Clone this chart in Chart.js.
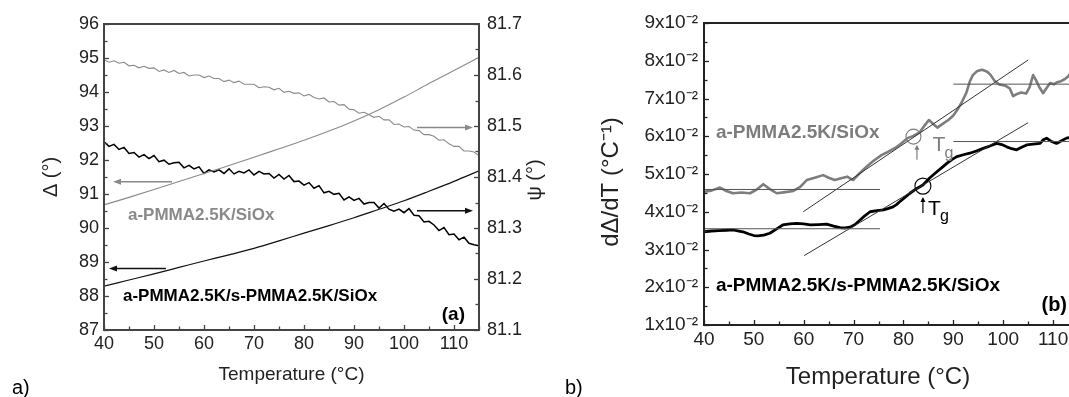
<!DOCTYPE html>
<html>
<head>
<meta charset="utf-8">
<script src="https://cdn.jsdelivr.net/npm/chart.js@4"></script>
<style>
  html, body { margin: 0; padding: 0; background: #fff; overflow: hidden; }
  body { width: 1069px; height: 397px; position: relative; }
  .panel { position: absolute; top: 0; height: 397px; }
  #panel-a { left: 0; width: 560px; }
  #panel-b { left: 520px; width: 600px; }
</style>
</head>
<body>
<div class="panel" id="panel-a"><canvas id="chart-a"></canvas></div>
<div class="panel" id="panel-b"><canvas id="chart-b"></canvas></div>
<script>
// ---- panel (a): ellipsometric angles vs temperature ----
const temps = [40, 45, 50, 55, 60, 65, 70, 75, 80, 85, 90, 95, 100, 105, 110, 115];
const deltaGray = [90.68, 90.90, 91.13, 91.37, 91.60, 91.84, 92.08, 92.33, 92.58, 92.85, 93.15, 93.48, 93.85, 94.25, 94.63, 95.02];
const deltaBlack = [88.29, 88.47, 88.65, 88.84, 89.03, 89.21, 89.40, 89.62, 89.85, 90.07, 90.30, 90.55, 90.80, 91.08, 91.37, 91.68];

const tempsFine = [40, 41, 42, 43, 44, 45, 46, 47, 48, 49, 50, 51, 52, 53, 54, 55, 56, 57, 58, 59,
  60, 61, 62, 63, 64, 65, 66, 67, 68, 69, 70, 71, 72, 73, 74, 75, 76, 77, 78, 79,
  80, 81, 82, 83, 84, 85, 86, 87, 88, 89, 90, 91, 92, 93, 94, 95, 96, 97, 98, 99,
  100, 101, 102, 103, 104, 105, 106, 107, 108, 109, 110, 111, 112, 113, 114, 115];
const psiGray = [81.630, 81.625, 81.628, 81.623, 81.625, 81.618, 81.619, 81.614, 81.617, 81.613,
  81.614, 81.607, 81.610, 81.605, 81.609, 81.603, 81.605, 81.598, 81.600, 81.600,
  81.595, 81.598, 81.593, 81.593, 81.587, 81.590, 81.585, 81.588, 81.582, 81.582,
  81.582, 81.575, 81.577, 81.576, 81.571, 81.574, 81.566, 81.568, 81.564, 81.565,
  81.559, 81.562, 81.556, 81.553, 81.555, 81.547, 81.548, 81.541, 81.542, 81.533,
  81.532, 81.525, 81.527, 81.522, 81.517, 81.519, 81.512, 81.512, 81.503, 81.504,
  81.498, 81.499, 81.492, 81.491, 81.483, 81.483, 81.480, 81.472, 81.473, 81.465,
  81.460, 81.460, 81.451, 81.451, 81.449, 81.442];
const psiBlack = [81.469, 81.460, 81.464, 81.454, 81.458, 81.446, 81.448, 81.439, 81.444, 81.436,
  81.442, 81.430, 81.433, 81.425, 81.428, 81.429, 81.418, 81.423, 81.416, 81.420,
  81.407, 81.414, 81.410, 81.414, 81.407, 81.416, 81.406, 81.411, 81.408, 81.414,
  81.404, 81.411, 81.406, 81.407, 81.398, 81.405, 81.396, 81.403, 81.391, 81.392,
  81.384, 81.389, 81.378, 81.383, 81.369, 81.372, 81.366, 81.368, 81.355, 81.361,
  81.354, 81.358, 81.347, 81.350, 81.350, 81.339, 81.348, 81.337, 81.333, 81.337,
  81.330, 81.338, 81.325, 81.324, 81.312, 81.313, 81.306, 81.295, 81.301, 81.287,
  81.288, 81.277, 81.282, 81.270, 81.267, 81.265];

const tempTicks = [40, 50, 60, 70, 80, 90, 100, 110];
const tempMinor = [45, 55, 65, 75, 85, 95, 105, 115];
const deltaTicks = [87, 88, 89, 90, 91, 92, 93, 94, 95, 96];
const deltaMinor = [87.5, 88.5, 89.5, 90.5, 91.5, 92.5, 93.5, 94.5, 95.5];
const psiTicks = [81.1, 81.2, 81.3, 81.4, 81.5, 81.6, 81.7];
const psiMinor = [81.15, 81.25, 81.35, 81.45, 81.55, 81.65];

// ---- panel (b): dΔ/dT with the Tg construction ----
const grayDerivT = [40.0, 41.5, 43.2, 44.5, 45.8, 47.5, 49.2, 50.5, 51.9, 53.2, 54.6, 56.3, 57.9, 59.3,
  60.6, 62.2, 63.9, 65.0, 66.2, 67.5, 68.7, 69.9, 71.2, 72.6, 74.0, 75.6, 77.1, 78.3, 79.5,
  80.8, 82.0, 83.3, 84.2, 85.1, 86.0, 86.8, 88.0, 89.0, 90.0, 90.8, 91.7, 92.6, 93.3, 93.9,
  94.8, 95.8, 96.8, 97.5, 98.2, 99.2, 100.4, 101.3, 102.0, 102.8, 103.6, 104.6, 105.3, 106.0,
  106.6, 107.2, 108.0, 108.7, 109.4, 110.2, 110.8, 111.6, 112.3, 113.0, 113.6, 114.3, 115.0];
const grayDeriv = [0.0453, 0.0456, 0.0464, 0.0455, 0.0449, 0.0451, 0.0449, 0.0458, 0.0473, 0.0460, 0.0449, 0.0452, 0.0455, 0.0466,
  0.0484, 0.0490, 0.0497, 0.0490, 0.0484, 0.0489, 0.0493, 0.0484, 0.0502, 0.0519, 0.0535, 0.0550, 0.0560, 0.0569, 0.0580,
  0.0595, 0.0601, 0.0611, 0.0628, 0.0643, 0.0632, 0.0623, 0.0634, 0.0643, 0.0655, 0.0670, 0.0690, 0.0715, 0.0745, 0.0762,
  0.0773, 0.0776, 0.0771, 0.0762, 0.0748, 0.0737, 0.0734, 0.0727, 0.0706, 0.0712, 0.0716, 0.0713, 0.0730, 0.0762,
  0.0748, 0.0731, 0.0714, 0.0728, 0.0741, 0.0738, 0.0743, 0.0746, 0.0751, 0.0758, 0.0770, 0.0776, 0.0772];
const blackDerivT = [40.0, 41.5, 43.0, 44.5, 45.8, 47.0, 47.8, 49.0, 50.0, 50.8, 52.0, 53.2, 54.5, 55.8,
  57.2, 58.6, 60.0, 61.3, 63.0, 64.6, 66.0, 67.3, 68.3, 69.3, 70.3, 71.3, 72.3, 73.3, 74.7,
  76.0, 77.0, 77.9, 78.6, 79.3, 80.3, 81.3, 82.6, 83.9, 85.3, 86.7, 87.7, 88.7, 89.7, 90.7,
  92.0, 93.3, 94.6, 96.0, 97.3, 98.7, 99.7, 100.7, 101.7, 102.7, 103.7, 104.7, 106.0, 107.4,
  108.0, 108.7, 109.7, 110.7, 111.7, 112.7, 113.8, 115.0];
const blackDeriv = [0.0347, 0.0349, 0.0350, 0.0351, 0.0352, 0.0349, 0.0347, 0.0341, 0.0337, 0.0336, 0.0338, 0.0343, 0.0354, 0.0365,
  0.0368, 0.0369, 0.0368, 0.0365, 0.0366, 0.0367, 0.0362, 0.0358, 0.0357, 0.0359, 0.0366, 0.0378, 0.0390, 0.0400, 0.0403,
  0.0405, 0.0409, 0.0413, 0.0419, 0.0427, 0.0438, 0.0449, 0.0461, 0.0471, 0.0490, 0.0506, 0.0517, 0.0528, 0.0538, 0.0546,
  0.0551, 0.0555, 0.0561, 0.0568, 0.0574, 0.0581, 0.0578, 0.0572, 0.0567, 0.0564, 0.0571, 0.0577, 0.0579, 0.0581,
  0.0590, 0.0595, 0.0586, 0.0581, 0.0588, 0.0595, 0.0598, 0.0601];

// tangent construction lines and the Tg points
const baseT = [40, 75.3];
const plateauT = [90, 115];
const grayBase = [0.0459, 0.0459];
const grayPlateau = [0.0738, 0.0738];
const grayRiseT = [59.9, 105];
const grayRise = [0.0400, 0.0802];
const blackBase = [0.0355, 0.0355];
const blackPlateau = [0.0586, 0.0586];
const blackRiseT = [60.1, 105];
const blackRise = [0.0284, 0.0636];
const tgGray = [82.0, 0.0599];
const tgBlack = [83.9, 0.0468];

const derivTicks = [0.01, 0.02, 0.03, 0.04, 0.05, 0.06, 0.07, 0.08, 0.09];
const derivMinor = [0.015, 0.025, 0.035, 0.045, 0.055, 0.065, 0.075, 0.085];

const family = "'Liberation Sans', Arial, Helvetica, sans-serif";
const ink = '#222';
const grayA = '#8a8a8a';
const grayB = '#7d7d7d';

function pairs(xs, ys) {
  return xs.map((x, i) => ({ x: x, y: ys[i] }));
}

function inwardTicks(chart, specs, color) {
  const { ctx, chartArea: a } = chart;
  ctx.save();
  ctx.strokeStyle = color;
  ctx.lineWidth = 1.3;
  specs.forEach(([id, values, len]) => {
    const s = chart.scales[id];
    values.forEach(v => {
      const p = Math.round(s.getPixelForValue(v)) + 0.5;
      ctx.beginPath();
      if (s.isHorizontal()) { ctx.moveTo(p, a.bottom); ctx.lineTo(p, a.bottom - len); }
      else if (s.position === 'left') { ctx.moveTo(a.left, p); ctx.lineTo(a.left + len, p); }
      else { ctx.moveTo(a.right, p); ctx.lineTo(a.right - len, p); }
      ctx.stroke();
    });
  });
  ctx.restore();
}

function arrow(ctx, x1, y1, x2, y2, color, len, half, width) {
  const ang = Math.atan2(y2 - y1, x2 - x1);
  const c = Math.cos(ang), s = Math.sin(ang);
  ctx.save();
  ctx.strokeStyle = color;
  ctx.fillStyle = color;
  ctx.lineWidth = width;
  ctx.beginPath();
  ctx.moveTo(x1, y1);
  ctx.lineTo(x2 - c * len * 0.7, y2 - s * len * 0.7);
  ctx.stroke();
  ctx.beginPath();
  ctx.moveTo(x2, y2);
  ctx.lineTo(x2 - c * len + s * half, y2 - s * len - c * half);
  ctx.lineTo(x2 - c * len - s * half, y2 - s * len + c * half);
  ctx.closePath();
  ctx.fill();
  ctx.restore();
}

function text(ctx, str, x, y, font, color, align, rotate) {
  ctx.save();
  ctx.font = font;
  ctx.fillStyle = color;
  ctx.textAlign = align || 'left';
  ctx.textBaseline = 'middle';
  ctx.translate(x, y);
  if (rotate) ctx.rotate(rotate);
  ctx.fillText(str, 0, 0);
  ctx.restore();
}

const overlayA = {
  id: 'overlayA',
  afterDatasetsDraw(chart) {
    const { ctx, chartArea: a, scales: { x, y, y2 } } = chart;
    ctx.save();
    ctx.strokeStyle = '#444';
    ctx.lineWidth = 2;
    ctx.strokeRect(a.left, a.top, a.right - a.left, a.bottom - a.top);
    ctx.restore();
    inwardTicks(chart, [['x', tempTicks, 5], ['x', tempMinor, 3.5], ['y', deltaTicks, 5],
      ['y', deltaMinor, 3.5], ['y2', psiTicks, 5], ['y2', psiMinor, 3.5]], '#444');

    // arrows tell which axis each curve belongs to
    arrow(ctx, x.getPixelForValue(53.6), y.getPixelForValue(91.36), x.getPixelForValue(41.8), y.getPixelForValue(91.36), grayA, 8, 3, 1.5);
    arrow(ctx, x.getPixelForValue(52.4), y.getPixelForValue(88.81), x.getPixelForValue(41.0), y.getPixelForValue(88.81), '#111', 8, 3, 1.5);
    arrow(ctx, x.getPixelForValue(102.6), y2.getPixelForValue(81.497), x.getPixelForValue(113.8), y2.getPixelForValue(81.497), grayA, 8, 3, 1.5);
    arrow(ctx, x.getPixelForValue(102.6), y2.getPixelForValue(81.334), x.getPixelForValue(113.8), y2.getPixelForValue(81.334), '#111', 8, 3, 1.5);

    text(ctx, 'a-PMMA2.5K/SiOx', x.getPixelForValue(44.8), y.getPixelForValue(90.38), `bold 17px ${family}`, grayA);
    text(ctx, 'a-PMMA2.5K/s-PMMA2.5K/SiOx', x.getPixelForValue(43.8), y.getPixelForValue(87.98), `bold 17px ${family}`, '#000');
    text(ctx, '(a)', x.getPixelForValue(112.2), y.getPixelForValue(87.44), `bold 19px ${family}`, '#000', 'right');
    text(ctx, 'ψ (°)', a.right + 56, (a.top + a.bottom) / 2 + 3, `20px ${family}`, ink, 'center', -Math.PI / 2);
    text(ctx, 'a)', 12, 388, `20px ${family}`, '#000');
  }
};

const overlayB = {
  id: 'overlayB',
  afterDatasetsDraw(chart) {
    const { ctx, chartArea: a, scales: { x, y } } = chart;
    ctx.save();
    ctx.strokeStyle = '#222';
    ctx.lineWidth = 2;
    ctx.strokeRect(a.left, a.top, a.right - a.left, a.bottom - a.top);
    ctx.restore();
    inwardTicks(chart, [['x', tempTicks, 5], ['x', tempMinor, 3.5], ['y', derivTicks, 5], ['y', derivMinor, 3.5]], '#222');

    // Tg markers under the circles
    const gx = x.getPixelForValue(tgGray[0]), gy = y.getPixelForValue(tgGray[1]);
    arrow(ctx, gx + 3.5, gy + 23, gx + 3.5, gy + 8, grayB, 5, 2.5, 1.2);
    text(ctx, 'T', gx + 19, gy + 9, `21px ${family}`, grayB);
    text(ctx, 'g', gx + 31, gy + 17, `16px ${family}`, grayB);
    const bx = x.getPixelForValue(tgBlack[0]), by = y.getPixelForValue(tgBlack[1]);
    arrow(ctx, bx, by + 27, bx, by + 11, '#000', 5, 2.5, 1.2);
    text(ctx, 'T', bx + 5, by + 23, `21px ${family}`, '#000');
    text(ctx, 'g', bx + 17, by + 31, `16px ${family}`, '#000');

    text(ctx, 'a-PMMA2.5K/SiOx', x.getPixelForValue(42.4), y.getPixelForValue(0.0609), `bold 19px ${family}`, grayB);
    text(ctx, 'a-PMMA2.5K/s-PMMA2.5K/SiOx', x.getPixelForValue(42.4), y.getPixelForValue(0.0205), `bold 19px ${family}`, '#000');
    text(ctx, '(b)', x.getPixelForValue(112.8), y.getPixelForValue(0.0153), `bold 20px ${family}`, '#000', 'right');

    text(ctx, 'Temperature (°C)', a.left + 174, a.bottom + 52, `24px ${family}`, ink, 'center');
    text(ctx, 'dΔ/dT (°C⁻¹)', 91, 182, `24px ${family}`, ink, 'center', -Math.PI / 2);
    text(ctx, 'b)', 45, 388, `20px ${family}`, '#000');
  }
};

const noGrid = { display: false, drawTicks: false };

new Chart(document.getElementById('chart-a'), {
  type: 'line',
  data: {
    datasets: [
      { data: pairs(temps, deltaGray), yAxisID: 'y', borderColor: grayA, borderWidth: 1.1, tension: 0.4, cubicInterpolationMode: 'monotone' },
      { data: pairs(tempsFine, psiGray), yAxisID: 'y2', borderColor: grayA, borderWidth: 1.1, tension: 0 },
      { data: pairs(temps, deltaBlack), yAxisID: 'y', borderColor: '#111', borderWidth: 1.2, tension: 0.4, cubicInterpolationMode: 'monotone' },
      { data: pairs(tempsFine, psiBlack), yAxisID: 'y2', borderColor: '#000', borderWidth: 1.5, tension: 0 }
    ]
  },
  options: {
    animation: false,
    responsive: true,
    maintainAspectRatio: false,
    layout: { padding: { top: 24, left: 0, right: 0, bottom: 0 } },
    plugins: { legend: { display: false }, tooltip: { enabled: false } },
    elements: { point: { radius: 0 } },
    scales: {
      x: {
        type: 'linear', min: 40, max: 115,
        grid: noGrid, border: { display: false },
        afterBuildTicks: s => { s.ticks = tempTicks.map(v => ({ value: v })); },
        afterFit: s => { s.height = 67; },
        ticks: { font: { size: 18, family }, color: ink, padding: 3, maxRotation: 0 },
        title: { display: true, text: 'Temperature (°C)', font: { size: 19, family }, color: ink, padding: { top: 0, bottom: 11 } }
      },
      y: {
        position: 'left', min: 87, max: 96,
        grid: noGrid, border: { display: false },
        afterBuildTicks: s => { s.ticks = deltaTicks.map(v => ({ value: v })); },
        afterFit: s => { s.width = 104; },
        ticks: { font: { size: 18, family }, color: ink, padding: 5 },
        title: { display: true, text: 'Δ (°)', font: { size: 20, family }, color: ink, padding: { top: 39, bottom: 0 } }
      },
      y2: {
        position: 'right', min: 81.1, max: 81.7,
        grid: noGrid, border: { display: false },
        afterBuildTicks: s => { s.ticks = psiTicks.map(v => ({ value: v })); },
        afterFit: s => { s.width = 81; },
        ticks: { font: { size: 18, family }, color: ink, padding: 8, callback: v => v.toFixed(1) }
      }
    }
  },
  plugins: [overlayA]
});

const thin = (xs, ys, color) => ({ data: pairs(xs, ys), borderColor: color, borderWidth: 1, tension: 0 });

new Chart(document.getElementById('chart-b'), {
  type: 'line',
  data: {
    datasets: [
      thin(baseT, grayBase, '#555'),
      thin(plateauT, grayPlateau, '#555'),
      thin(grayRiseT, grayRise, '#333'),
      thin(baseT, blackBase, '#555'),
      thin(plateauT, blackPlateau, '#555'),
      thin(blackRiseT, blackRise, '#333'),
      { data: pairs(grayDerivT, grayDeriv), borderColor: grayB, borderWidth: 2.6, tension: 0, borderJoinStyle: 'round' },
      { data: pairs(blackDerivT, blackDeriv), borderColor: '#000', borderWidth: 2.8, tension: 0, borderJoinStyle: 'round' },
      { data: [{ x: tgGray[0], y: tgGray[1] }], showLine: false, pointRadius: 7.5, pointStyle: 'circle',
        pointBorderColor: grayB, pointBackgroundColor: 'rgba(0,0,0,0)', pointBorderWidth: 1.1 },
      { data: [{ x: tgBlack[0], y: tgBlack[1] }], showLine: false, pointRadius: 8, pointStyle: 'circle',
        pointBorderColor: '#000', pointBackgroundColor: 'rgba(0,0,0,0)', pointBorderWidth: 1.1 }
    ]
  },
  options: {
    animation: false,
    responsive: true,
    maintainAspectRatio: false,
    layout: { padding: { top: 23, left: 0, right: 42, bottom: 0 } },
    plugins: { legend: { display: false }, tooltip: { enabled: false } },
    elements: { point: { radius: 0 } },
    scales: {
      x: {
        type: 'linear', min: 40, max: 115,
        grid: noGrid, border: { display: false },
        afterBuildTicks: s => { s.ticks = tempTicks.map(v => ({ value: v })); },
        afterFit: s => { s.height = 72; },
        ticks: { font: { size: 19, family }, color: ink, padding: 3, maxRotation: 0 }
      },
      y: {
        position: 'left', min: 0.01, max: 0.09,
        grid: noGrid, border: { display: false },
        afterBuildTicks: s => { s.ticks = derivTicks.map(v => ({ value: v })); },
        afterFit: s => { s.width = 184; },
        ticks: { font: { size: 19, family }, color: ink, padding: 6, callback: v => `${Math.round(v * 100)}x10⁻²` }
      }
    }
  },
  plugins: [overlayB]
});
</script>
</body>
</html>
